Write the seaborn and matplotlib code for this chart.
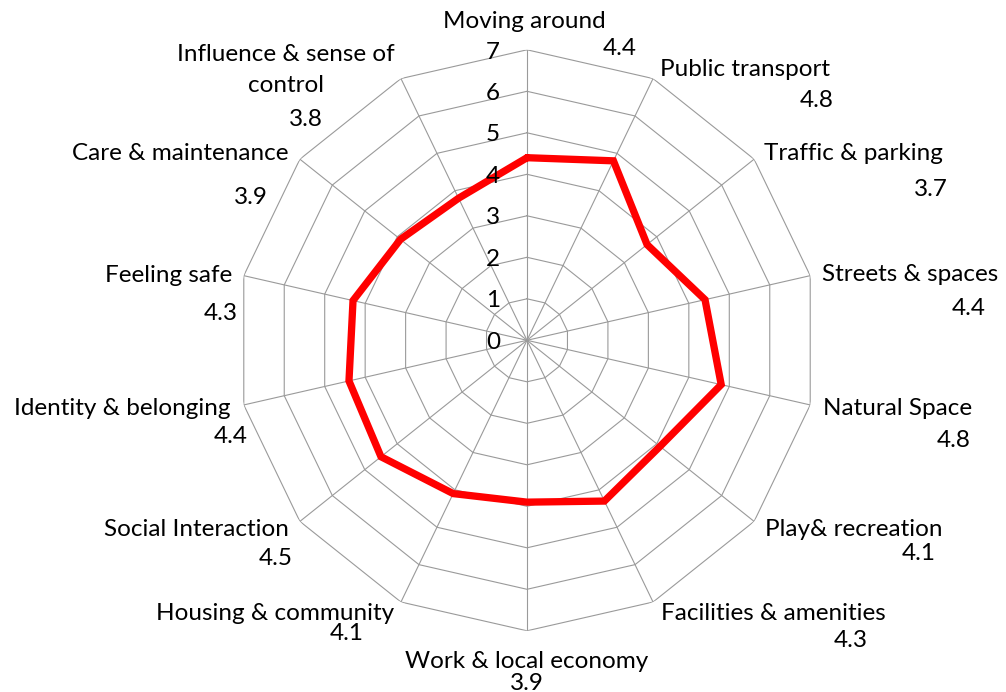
import numpy as np
import pandas as pd
import seaborn as sns
import matplotlib.pyplot as plt

## dados do grafico

categorias = ["Moving around", "Public transport", "Traffic & parking", "Streets & spaces",
              "Natural Space", "Play& recreation", "Facilities & amenities", "Work & local economy",
              "Housing & community", "Social Interaction", "Identity & belonging", "Feeling safe",
              "Care & maintenance", "Influence & sense of\ncontrol"]
valores = [4.4, 4.8, 3.7, 4.4, 4.8, 4.1, 4.3, 3.9, 4.1, 4.5, 4.4, 4.3, 3.9, 3.8]
niveis = [0, 1, 2, 3, 4, 5, 6, 7]

# deslocamento dos rotulos (pixels) a partir do vertice externo
desloc_nome = [(-3, 21.5), (92, 2.6), (99, -1), (100, -5.6), (87, -10.4), (100, -15), (120, -17.6),
               (0, -37.5), (-125.5, -17.6), (-103.6, -15), (-122, -9.7), (-75.5, -6.3), (-120, -0.4),
               (-114.7, -13.4)]
desloc_valor = [(93, -5), (164, -28.4), (177, -37), (159, -39), (143, -42.4), (165, -39), (197.5, -45),
                (0, -59), (-54, -38.3), (-24, -44), (-13.5, -38), (-23, -44.6), (-49, -44.4),
                (-95.5, -47.7)]

n = len(categorias)
angulos = [2 * np.pi * i / n for i in range(n)]

tabela = pd.DataFrame({"angulo": angulos + [2 * np.pi], "valor": valores + [valores[0]]})

## estilo
sns.set_style("white")
plt.rcParams['font.family'] = ['Lato', 'DejaVu Sans']
plt.rcParams['text.color'] = 'black'
tam_fonte = 17.5
cinza = "#9a9a9a"

fig = plt.figure(figsize=(10.06, 6.92), dpi=100)
ax = fig.add_axes([0.23509, 0.08844, 0.57753, 0.83960], projection="polar")
ax.set_theta_zero_location("N")
ax.set_theta_direction(-1)
ax.set_ylim(0, 7)
ax.grid(False)
ax.spines["polar"].set_visible(False)
ax.set_xticks([])
ax.set_yticks([])

# grade poligonal (estilo excel)
for r in niveis[1:]:
    ax.plot(angulos + [2 * np.pi], [r] * (n + 1), color=cinza, linewidth=0.8, zorder=1)
for a in angulos:
    ax.plot([a, a], [0, 7], color=cinza, linewidth=0.8, zorder=1)

# serie
sns.lineplot(data=tabela, x="angulo", y="valor", sort=False, color="red", linewidth=5.25, ax=ax, zorder=3)
ax.lines[-1].set_solid_joinstyle("miter")
ax.set_xlabel("")
ax.set_ylabel("")

# rotulos do eixo radial
for r in niveis:
    ax.annotate(str(r), xy=(0, r), xytext=(-34, -8.7), textcoords="offset pixels",
                ha="center", va="baseline", fontsize=tam_fonte, annotation_clip=False)

# rotulos das categorias e valores
for a, nome, v, dn, dv in zip(angulos, categorias, valores, desloc_nome, desloc_valor):
    ax.annotate(nome, xy=(a, 7), xytext=dn, textcoords="offset pixels", ha="center", va="baseline",
                multialignment="center", linespacing=1.56, fontsize=tam_fonte, annotation_clip=False)
    ax.annotate(f"{v:.1f}", xy=(a, 7), xytext=dv, textcoords="offset pixels", ha="center", va="baseline",
                fontsize=tam_fonte, annotation_clip=False)

plt.savefig("out.png", dpi=100)
